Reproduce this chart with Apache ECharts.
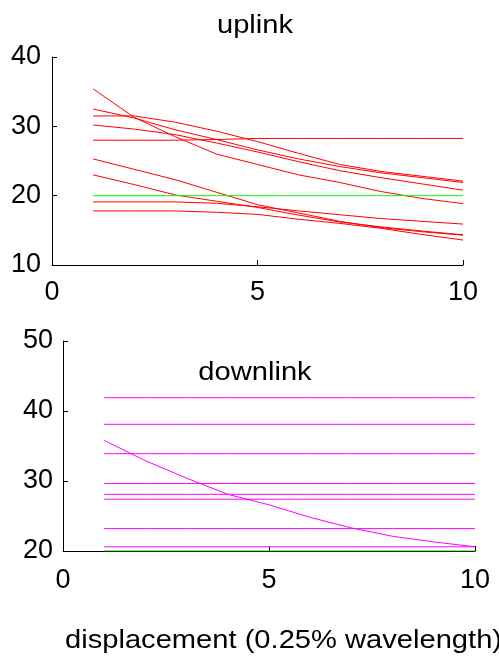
<!DOCTYPE html>
<html>
<head>
<meta charset="utf-8">
<title>uplink / downlink</title>
<script src="https://cdn.jsdelivr.net/npm/echarts@6/dist/echarts.min.js"></script>
<style>
  html, body { margin: 0; padding: 0; background: #fff; }
  #chart { width: 499px; height: 661px; }
</style>
</head>
<body>
<div id="chart"></div>
<script>
// ---- data ----
const xs = [1, 2, 3, 4, 5, 6, 7, 8, 9, 10]

// uplink (red curves + green reference)
const upA = [35.4, 31.3, 28.5, 26.0, 24.5, 23.0, 21.9, 20.6, 19.6, 18.85]
const upB = [32.5, 31.2, 29.5, 28.1, 26.6, 25.3, 24.2, 23.3, 22.6, 21.9]
const upC = [31.5, 31.5, 30.6, 29.3, 27.8, 26.1, 24.5, 23.5, 22.8, 22.1]
const upD = [30.2, 29.6, 28.8, 27.6, 26.3, 24.9, 23.6, 22.6, 21.7, 20.8]
const upE = [28.0, 28.0, 28.0, 28.1, 28.25, 28.25, 28.25, 28.25, 28.25, 28.25]
const upF = [25.3, 23.8, 22.3, 20.5, 18.7, 17.5, 16.3, 15.4, 14.8, 14.3]
const upG = [23.0, 21.6, 20.1, 19.2, 18.3, 17.2, 16.2, 15.5, 14.9, 14.35]
const upH = [19.1, 19.1, 19.1, 18.9, 18.4, 17.8, 17.25, 16.7, 16.3, 15.9]
const upI = [17.8, 17.8, 17.8, 17.6, 17.3, 16.6, 16.0, 15.3, 14.4, 13.6]
const upGreen = [20, 20, 20, 20, 20, 20, 20, 20, 20, 20]

// downlink (magenta levels, one decaying curve, green reference)
const downLevels = [41.9, 38.1, 33.9, 29.65, 28.1, 27.4, 23.2, 20.6]
const downCurve = [35.8, 32.9, 30.4, 28.1, 26.6, 24.8, 23.3, 22.1, 21.3, 20.6]
const downGreen = [20, 20, 20, 20, 20, 20, 20, 20, 20, 20]

// tick settings
const xTicks = { min: 0, max: 10, interval: 5 }
const upTicks = { min: 10, max: 40, interval: 10 }
const downTicks = { min: 20, max: 50, interval: 10 }

// ---- helpers ----
const FONT = 'Liberation Sans'

function pairs(values) {
  return xs.map((x, i) => [x, values[i]])
}

function line(values, color, idx) {
  return {
    type: 'line',
    xAxisIndex: idx,
    yAxisIndex: idx,
    data: pairs(values),
    symbol: 'none',
    smooth: false,
    silent: true,
    animation: false,
    lineStyle: { color: color, width: 1 },
  }
}

function axisBase(ticks, idx, margin) {
  return {
    type: 'value',
    gridIndex: idx,
    min: ticks.min,
    max: ticks.max,
    interval: ticks.interval,
    splitLine: { show: false },
    axisLine: { show: true, onZero: false, lineStyle: { color: '#000', width: 1 } },
    axisTick: { show: true, inside: true, length: 5, lineStyle: { color: '#000' } },
    axisLabel: { color: '#000', fontFamily: FONT, fontSize: 27, margin: margin },
  }
}

function textEl(text, x, y, align) {
  return {
    type: 'text',
    x: x,
    y: y,
    scaleX: 1.12,
    style: {
      text: text,
      font: '26px "' + FONT + '"',
      fill: '#000',
      align: align,
      verticalAlign: 'middle',
    },
  }
}

// ---- chart ----
const chart = echarts.init(document.getElementById('chart'), null, { renderer: 'canvas' })

const upSeries = [upA, upB, upC, upD, upE, upF, upG, upH, upI].map((v) => line(v, '#ff0000', 0))
upSeries.push(line(upGreen, '#00ff00', 0))

const downSeries = downLevels.map((lv) => line(xs.map(() => lv), '#ff00ff', 1))
downSeries.push(line(downCurve, '#ff00ff', 1))
downSeries.push(line(downGreen, '#00dd00', 1))

chart.setOption({
  backgroundColor: '#fff',
  animation: false,
  grid: [
    { left: 52, top: 57, width: 411, height: 208 },
    { left: 63, top: 341, width: 412, height: 210 },
  ],
  xAxis: [axisBase(xTicks, 0, 14), axisBase(xTicks, 1, 16)],
  yAxis: [axisBase(upTicks, 0, 11), axisBase(downTicks, 1, 10)],
  series: upSeries.concat(downSeries),
  graphic: [
    textEl('uplink', 255, 26, 'center'),
    textEl('downlink', 255, 373, 'center'),
    textEl('displacement (0.25% wavelength)', 65, 641, 'left'),
  ],
})
</script>
</body>
</html>
